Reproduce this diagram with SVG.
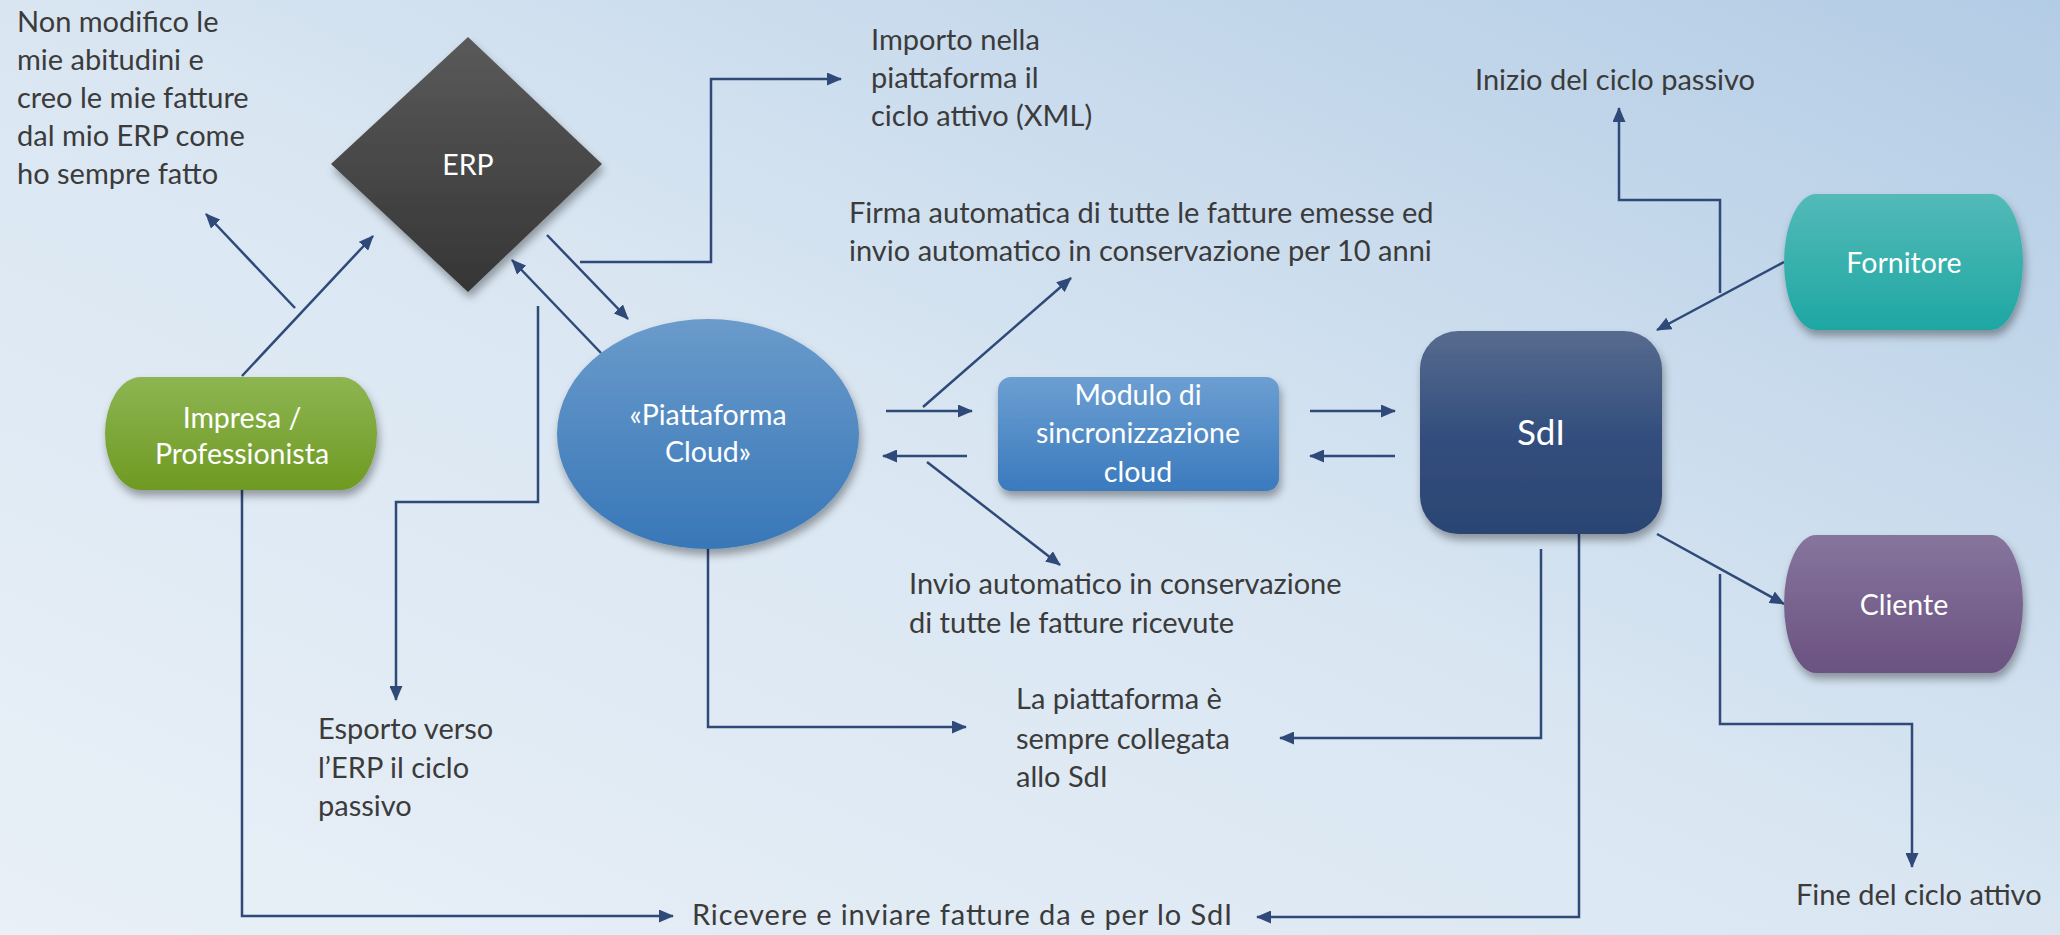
<svg xmlns="http://www.w3.org/2000/svg" width="2060" height="935" viewBox="0 0 2060 935">
<defs>
<linearGradient id="bg" x1="0" y1="1" x2="1" y2="0">
<stop offset="0" stop-color="#e9f0f7"/>
<stop offset="0.5" stop-color="#d9e6f2"/>
<stop offset="1" stop-color="#b3cce5"/>
</linearGradient>
<linearGradient id="gErp" x1="0" y1="0" x2="0" y2="1"><stop offset="0" stop-color="#5a5a5a"/><stop offset="1" stop-color="#353535"/></linearGradient>
<linearGradient id="gGreen" x1="0" y1="0" x2="0" y2="1"><stop offset="0" stop-color="#8db552"/><stop offset="1" stop-color="#6e9a22"/></linearGradient>
<linearGradient id="gCloud" x1="0" y1="0" x2="0" y2="1"><stop offset="0" stop-color="#6a9bcb"/><stop offset="1" stop-color="#3877b8"/></linearGradient>
<linearGradient id="gMod" x1="0" y1="0" x2="0" y2="1"><stop offset="0" stop-color="#6c9fd2"/><stop offset="1" stop-color="#3a7abd"/></linearGradient>
<linearGradient id="gSdi" x1="0" y1="0" x2="0" y2="1"><stop offset="0" stop-color="#576b8e"/><stop offset="0.5" stop-color="#344f7e"/><stop offset="1" stop-color="#2a4572"/></linearGradient>
<linearGradient id="gForn" x1="0" y1="0" x2="0" y2="1"><stop offset="0" stop-color="#53bab8"/><stop offset="1" stop-color="#1ea7a3"/></linearGradient>
<linearGradient id="gCli" x1="0" y1="0" x2="0" y2="1"><stop offset="0" stop-color="#86759c"/><stop offset="1" stop-color="#6b5281"/></linearGradient>
<filter id="sh" x="-20%" y="-20%" width="140%" height="150%">
<feDropShadow dx="2" dy="6" stdDeviation="4" flood-color="#000" flood-opacity="0.35"/>
</filter>
<marker id="ah" viewBox="0 0 15 13" refX="14" refY="6.5" markerWidth="15" markerHeight="13" markerUnits="userSpaceOnUse" orient="auto">
<path d="M0,0 L15,6.5 L0,13 Z" fill="#2f4a78"/>
</marker>
</defs>
<style>
.lbl{font-family:Lato,"Liberation Sans",sans-serif;font-size:29px;fill:#3b3b3b}
.nt{font-family:Lato,"Liberation Sans",sans-serif;font-size:28.5px;fill:#ffffff;text-anchor:middle}
.c{fill:none;stroke:#2f4a78;stroke-width:2.5;marker-end:url(#ah)}
</style>
<rect width="2060" height="935" fill="url(#bg)"/>

<g id="texts">
<text class="lbl" x="17" y="32">Non modifico le</text>
<text class="lbl" x="17" y="70">mie abitudini e</text>
<text class="lbl" x="17" y="108">creo le mie fatture</text>
<text class="lbl" x="17" y="146">dal mio ERP come</text>
<text class="lbl" x="17" y="184">ho sempre fatto</text>

<text class="lbl" x="871" y="50">Importo nella</text>
<text class="lbl" x="871" y="88">piattaforma il</text>
<text class="lbl" x="871" y="126">ciclo attivo (XML)</text>

<text class="lbl" x="849" y="223">Firma automatica di tutte le fatture emesse ed</text>
<text class="lbl" x="849" y="261">invio automatico in conservazione per 10 anni</text>

<text class="lbl" x="1475" y="90">Inizio del ciclo passivo</text>

<text class="lbl" x="909" y="594">Invio automatico in conservazione</text>
<text class="lbl" x="909" y="633">di tutte le fatture ricevute</text>

<text class="lbl" x="318" y="739">Esporto verso</text>
<text class="lbl" x="318" y="778">l’ERP il ciclo</text>
<text class="lbl" x="318" y="816">passivo</text>

<text class="lbl" x="1016" y="709">La piattaforma è</text>
<text class="lbl" x="1016" y="749">sempre collegata</text>
<text class="lbl" x="1016" y="787">allo SdI</text>

<text class="lbl" x="692" y="925" textLength="540" lengthAdjust="spacing">Ricevere e inviare fatture da e per lo SdI</text>
<text class="lbl" x="1796" y="905">Fine del ciclo attivo</text>
</g>

<g id="connectors">
<path class="c" d="M242,376 L373,236"/>
<path class="c" d="M295,308 L206,214"/>
<path class="c" d="M580,262 H711 V79 H841"/>
<path class="c" d="M547,235 L628,319"/>
<path class="c" d="M601,353 L512,260"/>
<path class="c" d="M538,306 V502 H396 V700"/>
<path class="c" d="M242,490 V916 H673"/>
<path class="c" d="M886,411 H972"/>
<path class="c" d="M967,456 H883"/>
<path class="c" d="M923,407 L1071,278"/>
<path class="c" d="M927,462 L1060,565"/>
<path class="c" d="M708,549 V727 H966"/>
<path class="c" d="M1310,411 H1395"/>
<path class="c" d="M1395,456 H1310"/>
<path class="c" d="M1541,549 V738 H1280"/>
<path class="c" d="M1579,518 V917 H1257"/>
<path class="c" d="M1784,262 L1657,330"/>
<path class="c" d="M1720,293 V200 H1619 V108"/>
<path class="c" d="M1657,534 L1784,604"/>
<path class="c" d="M1720,574 V724 H1912 V867"/>
</g>

<g id="erp">
<path d="M468,37 L602,164 L468,292 L331,164 Z" fill="url(#gErp)" filter="url(#sh)"/>
<text class="nt" x="468" y="175">ERP</text>
</g>

<g id="impresa">
<path d="M141,377 H341 A36,56.5 0 0 1 341,490 H141 A36,56.5 0 0 1 141,377 Z" fill="url(#gGreen)" filter="url(#sh)"/>
<text class="nt" x="242" y="428">Impresa /</text>
<text class="nt" x="242" y="464">Professionista</text>
</g>

<g id="cloud">
<ellipse cx="708" cy="434" rx="151" ry="115" fill="url(#gCloud)" filter="url(#sh)"/>
<text class="nt" x="708" y="425">«Piattaforma</text>
<text class="nt" x="708" y="462">Cloud»</text>
</g>

<g id="modulo">
<rect x="998" y="377" width="281" height="114" rx="13" fill="url(#gMod)" filter="url(#sh)"/>
<text class="nt" x="1138" y="405">Modulo di</text>
<text class="nt" x="1138" y="443">sincronizzazione</text>
<text class="nt" x="1138" y="482">cloud</text>
</g>

<g id="sdi">
<rect x="1420" y="331" width="242" height="203" rx="38" fill="url(#gSdi)" filter="url(#sh)"/>
<text class="nt" x="1541" y="445" style="font-size:35px">SdI</text>
</g>

<g id="fornitore">
<path d="M1816,194 H1991 A32,68 0 0 1 1991,330 H1816 A32,68 0 0 1 1816,194 Z" fill="url(#gForn)" filter="url(#sh)"/>
<text class="nt" x="1904" y="273">Fornitore</text>
</g>

<g id="cliente">
<path d="M1816,535 H1991 A32,69 0 0 1 1991,673 H1816 A32,69 0 0 1 1816,535 Z" fill="url(#gCli)" filter="url(#sh)"/>
<text class="nt" x="1904" y="615">Cliente</text>
</g>
</svg>
